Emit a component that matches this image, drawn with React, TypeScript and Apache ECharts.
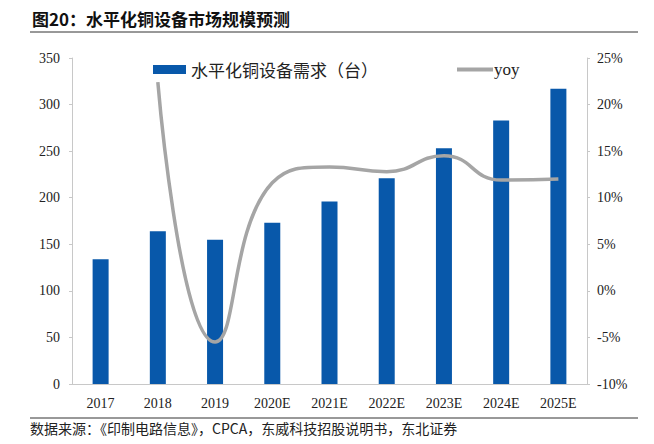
import React, { useEffect, useRef } from "react";
import * as echarts from "echarts";

const categories = ["2017", "2018", "2019", "2020E", "2021E", "2022E", "2023E", "2024E", "2025E"];
const demand = [134, 164, 155, 173, 196, 221, 253, 283, 317];
const yoy = [null, 22.4, -5.5, 11.6, 13.3, 12.8, 14.5, 11.9, 12.0];
const leftTicks = { min: 0, max: 350, interval: 50 };
const rightTicks = { min: -10, max: 25, interval: 5 };

const SERIF = '"Liberation Serif", "Times New Roman", "Noto Sans CJK SC", serif';
const CJK = '"Noto Sans CJK SC", "Liberation Serif", serif';

export default function App() {
  const ref = useRef<HTMLDivElement>(null);
  useEffect(() => {
    if (!ref.current) return;
    const chart = echarts.init(ref.current, undefined, { renderer: "svg" });
    chart.setOption({
      animation: false,
      backgroundColor: "#fff",
      grid: { left: 72, right: 67, top: 58, bottom: 60 },
      graphic: [
        {
          type: "text",
          left: 32,
          top: 10,
          style: { text: "图20：水平化铜设备市场规模预测", font: `bold 17px ${CJK}`, fill: "#111" },
        },
        { type: "line", shape: { x1: 30, y1: 32, x2: 638, y2: 32 }, style: { stroke: "#333", lineWidth: 1 } },
        { type: "line", shape: { x1: 30, y1: 418, x2: 638, y2: 418 }, style: { stroke: "#333", lineWidth: 1 } },
        {
          type: "text",
          left: 30,
          top: 421,
          style: { text: "数据来源：《印制电路信息》，CPCA，东威科技招股说明书，东北证券", font: `14px ${CJK}`, fill: "#222" },
        },
      ],
      legend: [
        {
          data: ["水平化铜设备需求（台）"],
          left: 148,
          top: 56,
          icon: "rect",
          itemWidth: 33,
          itemHeight: 9,
          itemGap: 5,
          textStyle: { fontFamily: CJK, fontSize: 17, color: "#222" },
        },
        {
          data: ["yoy"],
          left: 452,
          top: 56,
          icon: "rect",
          itemWidth: 36,
          itemHeight: 4,
          textStyle: { fontFamily: SERIF, fontSize: 17, color: "#222", padding: [0, 0, 4, -4] },
        },
      ],
      xAxis: {
        type: "category",
        data: categories,
        axisLine: { lineStyle: { color: "#c8c8c8" } },
        axisTick: { show: false },
        axisLabel: { fontFamily: SERIF, fontSize: 14, color: "#222", margin: 12 },
      },
      yAxis: [
        {
          type: "value",
          ...leftTicks,
          splitLine: { show: false },
          axisLine: { show: true, lineStyle: { color: "#c8c8c8" } },
          axisTick: { show: true, length: 3, lineStyle: { color: "#c8c8c8" } },
          axisLabel: { fontFamily: SERIF, fontSize: 14, color: "#222", margin: 12 },
        },
        {
          type: "value",
          ...rightTicks,
          splitLine: { show: false },
          axisLine: { show: true, lineStyle: { color: "#c8c8c8" } },
          axisTick: { show: true, length: 3, lineStyle: { color: "#c8c8c8" } },
          axisLabel: { fontFamily: SERIF, fontSize: 14, color: "#222", margin: 10, formatter: "{value}%" },
        },
      ],
      series: [
        {
          name: "水平化铜设备需求（台）",
          type: "bar",
          data: demand,
          barWidth: 16,
          itemStyle: { color: "#0858AA" },
        },
        {
          name: "yoy",
          type: "line",
          yAxisIndex: 1,
          data: yoy,
          smooth: 0.5,
          showSymbol: false,
          symbol: "none",
          lineStyle: { color: "#A5A5A5", width: 3.5 },
          itemStyle: { color: "#A5A5A5" },
        },
      ],
    });
    return () => chart.dispose();
  }, []);
  return <div ref={ref} style={{ width: 654, height: 444, position: "absolute", left: 0, top: 0 }} />;
}
